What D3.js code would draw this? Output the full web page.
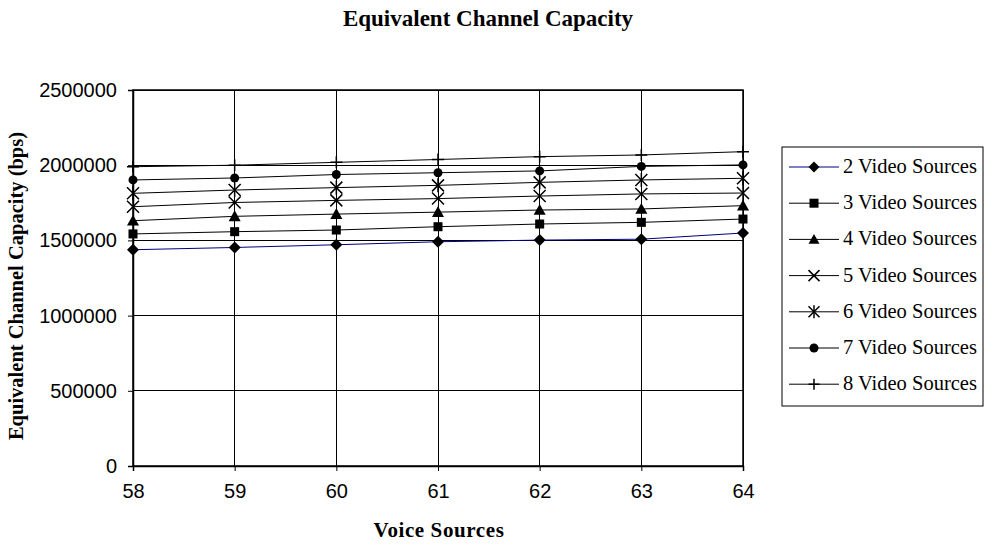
<!DOCTYPE html>
<html>
<head>
<meta charset="utf-8">
<script src="https://cdn.jsdelivr.net/npm/d3@7"></script>
<style>
  body { margin: 0; background: #fff; }
  .tick text { font-family: "Liberation Sans", Arial, sans-serif; font-size: 20px; fill: #000; }
</style>
</head>
<body>
<div id="chart"></div>
<script>
const voiceSources = [58, 59, 60, 61, 62, 63, 64];
const yTicks = [0, 500000, 1000000, 1500000, 2000000, 2500000];
const seriesNames = ["2 Video Sources", "3 Video Sources", "4 Video Sources", "5 Video Sources",
  "6 Video Sources", "7 Video Sources", "8 Video Sources"];
const video2 = [1438000, 1453000, 1471000, 1491000, 1502000, 1508000, 1549000];
const video3 = [1543000, 1558000, 1569000, 1591000, 1609000, 1620000, 1642000];
const video4 = [1631000, 1660000, 1675000, 1688000, 1702000, 1709000, 1731000];
const video5 = [1724000, 1752000, 1766000, 1778000, 1795000, 1809000, 1815000];
const video6 = [1813000, 1835000, 1851000, 1866000, 1886000, 1902000, 1913000];
const video7 = [1902000, 1915000, 1938000, 1950000, 1962000, 1992000, 2002000];
const video8 = [1990000, 2000000, 2019000, 2038000, 2057000, 2068000, 2090000];
const markers = ["diamond", "square", "triangle", "x", "asterisk", "circle", "plus"];
const lineColors = ["#000080", "#000", "#000", "#000", "#000", "#000", "#000"];

const series = [video2, video3, video4, video5, video6, video7, video8].map((vals, i) => ({
  name: seriesNames[i], marker: markers[i], color: lineColors[i],
  values: vals.map((v, j) => ({ x: voiceSources[j], y: v }))
}));

const W = 986, H = 549;
const margin = { top: 90, right: 243, bottom: 83, left: 133 };
const width = W - margin.left - margin.right;
const height = H - margin.top - margin.bottom;

const svgRoot = d3.select("#chart").append("svg")
  .attr("width", W).attr("height", H);

const svg = svgRoot.append("g")
  .attr("transform", `translate(${margin.left}, ${margin.top})`);

const x = d3.scaleLinear().domain([58, 64]).range([0, width]);
const y = d3.scaleLinear().domain([0, 2500000]).range([height, 0]);

// gridlines
svg.append("g").selectAll("line.h").data(yTicks).join("line")
  .attr("x1", 0).attr("x2", width)
  .attr("y1", d => y(d)).attr("y2", d => y(d))
  .attr("stroke", "#000").attr("stroke-width", 1).attr("shape-rendering", "crispEdges");
svg.append("g").selectAll("line.v").data(voiceSources).join("line")
  .attr("x1", d => x(d)).attr("x2", d => x(d))
  .attr("y1", 0).attr("y2", height)
  .attr("stroke", "#000").attr("stroke-width", 1).attr("shape-rendering", "crispEdges");

// plot border
svg.append("rect").attr("width", width).attr("height", height)
  .attr("fill", "none").attr("stroke", "#000").attr("stroke-width", 1.5);

// axes
svg.append("g")
  .attr("transform", `translate(0, ${height})`)
  .call(d3.axisBottom(x).tickValues(voiceSources).tickFormat(d3.format("d")).tickSize(5).tickPadding(13))
  .call(g => g.select(".domain").attr("stroke-width", 1.5));

svg.append("g")
  .call(d3.axisLeft(y).tickValues(yTicks).tickFormat(d3.format("d")).tickSize(5).tickPadding(11))
  .call(g => g.select(".domain").attr("stroke-width", 1.5));

function drawMarker(g, type, size) {
  const s = size / 2;
  if (type === "diamond") {
    g.append("path").attr("d", `M0,${-s}L${s},0L0,${s}L${-s},0Z`).attr("fill", "#000");
  } else if (type === "square") {
    g.append("rect").attr("x", -4.5).attr("y", -4.5).attr("width", 9).attr("height", 9).attr("fill", "#000");
  } else if (type === "triangle") {
    g.append("path").attr("d", `M0,${-s}L${s},${s * 0.8}L${-s},${s * 0.8}Z`).attr("fill", "#000");
  } else if (type === "x" || type === "asterisk") {
    g.append("path").attr("d", `M${-s},${-s}L${s},${s}M${-s},${s}L${s},${-s}`)
      .attr("stroke", "#000").attr("stroke-width", 1.5);
    if (type === "asterisk") {
      g.append("path").attr("d", `M0,${-s - 1}L0,${s + 1}`).attr("stroke", "#000").attr("stroke-width", 1.5);
    }
  } else if (type === "circle") {
    g.append("circle").attr("r", 4.5).attr("fill", "#000");
  } else if (type === "plus") {
    g.append("path").attr("d", `M${-s},0L${s},0M0,${-s}L0,${s}`)
      .attr("stroke", "#000").attr("stroke-width", 1.5);
  }
}

const line = d3.line().x(d => x(d.x)).y(d => y(d.y));

series.forEach(s => {
  svg.append("path").datum(s.values)
    .attr("d", line).attr("fill", "none")
    .attr("stroke", s.color).attr("stroke-width", 1);
});
series.forEach(s => {
  s.values.forEach(d => {
    const g = svg.append("g").attr("transform", `translate(${x(d.x)}, ${y(d.y)})`);
    drawMarker(g, s.marker, 12);
  });
});

// titles
svgRoot.append("text")
  .attr("x", 488).attr("y", 26)
  .attr("text-anchor", "middle")
  .style("font-family", "'Liberation Serif', 'Times New Roman', serif")
  .style("font-weight", "bold").style("font-size", "23px")
  .text("Equivalent Channel Capacity");

svgRoot.append("text")
  .attr("x", 439).attr("y", 537)
  .attr("text-anchor", "middle")
  .style("font-family", "'Liberation Serif', 'Times New Roman', serif")
  .style("font-weight", "bold").style("font-size", "21px")
  .style("letter-spacing", "0.6px")
  .text("Voice Sources");

svgRoot.append("text")
  .attr("transform", "translate(23, 286) rotate(-90)")
  .attr("text-anchor", "middle")
  .style("font-family", "'Liberation Serif', 'Times New Roman', serif")
  .style("font-weight", "bold").style("font-size", "20.5px")
  .text("Equivalent Channel Capacity (bps)");

// legend
const legend = svgRoot.append("g").attr("transform", "translate(782, 147)");
legend.append("rect").attr("width", 201).attr("height", 259)
  .attr("fill", "#fff").attr("stroke", "#000").attr("stroke-width", 1);

const item = legend.selectAll("g.item").data(series).join("g")
  .attr("class", "item")
  .attr("transform", (d, i) => `translate(0, ${20 + i * 36.2})`);

item.append("line").attr("x1", 7).attr("x2", 57)
  .attr("stroke", d => d.color).attr("stroke-width", 1);
item.each(function (d) {
  const g = d3.select(this).append("g").attr("transform", "translate(32, 0)");
  drawMarker(g, d.marker, 11);
});
item.append("text")
  .attr("x", 61).attr("y", 6)
  .style("font-family", "'Liberation Serif', 'Times New Roman', serif")
  .style("font-size", "20.5px")
  .text(d => d.name);
</script>
</body>
</html>
